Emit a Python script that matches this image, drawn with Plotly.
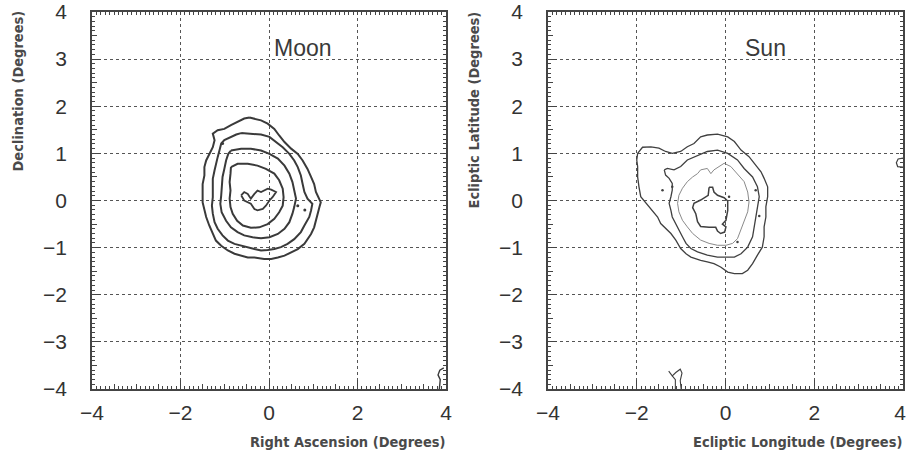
import plotly.graph_objects as go

# ---------------- data (degrees) ----------------
X_TICKS = [-4, -2, 0, 2, 4]
X_TICK_TEXT_RIGHT = ["\u22124", "\u22122", "0", "2", "4\u00a0"]
Y_TICKS = [-4, -3, -2, -1, 0, 1, 2, 3, 4]
AX_RANGE = [-4, 4]

MOON_RING_1 = [(-0.44, 1.76), (-0.18, 1.70), (-0.03, 1.63), (0.12, 1.52), (0.23, 1.38), (0.35, 1.24),
               (0.50, 1.10), (0.65, 0.99), (0.76, 0.85), (0.87, 0.67), (0.95, 0.50), (1.02, 0.35),
               (1.06, 0.18), (1.14, 0.04), (1.17, -0.04), (1.14, -0.14), (1.10, -0.28), (1.06, -0.43),
               (1.02, -0.57), (0.95, -0.71), (0.87, -0.82), (0.80, -0.92), (0.65, -1.03), (0.50, -1.10),
               (0.35, -1.17), (0.20, -1.21), (0.05, -1.24), (-0.11, -1.24), (-0.33, -1.21), (-0.48, -1.21),
               (-0.63, -1.17), (-0.78, -1.13), (-0.93, -1.06), (-1.08, -0.96), (-1.20, -0.85), (-1.27, -0.71),
               (-1.35, -0.53), (-1.42, -0.35), (-1.46, -0.21), (-1.50, -0.04), (-1.50, 0.14), (-1.50, 0.35),
               (-1.46, 0.53), (-1.46, 0.71), (-1.42, 0.85), (-1.35, 0.99), (-1.27, 1.13), (-1.23, 1.28),
               (-1.27, 1.42), (-1.16, 1.49), (-1.01, 1.52), (-0.86, 1.60), (-0.71, 1.67), (-0.56, 1.74)]
MOON_RING_2 = [(-0.63, 1.43), (-0.41, 1.42), (-0.18, 1.40), (0.01, 1.35), (0.16, 1.24), (0.31, 1.13),
               (0.46, 0.99), (0.57, 0.85), (0.65, 0.71), (0.72, 0.53), (0.76, 0.35), (0.80, 0.18),
               (0.87, 0.04), (0.98, -0.07), (0.95, -0.21), (0.91, -0.35), (0.80, -0.53), (0.72, -0.67),
               (0.57, -0.82), (0.42, -0.92), (0.27, -0.99), (0.12, -1.03), (-0.03, -1.05), (-0.18, -1.06),
               (-0.33, -1.03), (-0.48, -0.99), (-0.63, -0.96), (-0.78, -0.92), (-0.93, -0.85), (-1.05, -0.74),
               (-1.16, -0.60), (-1.23, -0.46), (-1.27, -0.28), (-1.29, -0.11), (-1.27, 0.07), (-1.27, 0.25),
               (-1.27, 0.46), (-1.23, 0.64), (-1.20, 0.78), (-1.16, 0.92), (-1.12, 1.06), (-1.08, 1.21),
               (-1.01, 1.28), (-0.86, 1.35), (-0.74, 1.40)]
MOON_RING_3 = [(-0.86, 1.06), (-0.63, 1.10), (-0.41, 1.10), (-0.18, 1.06), (0.01, 0.99), (0.20, 0.89),
               (0.35, 0.74), (0.46, 0.57), (0.53, 0.39), (0.57, 0.21), (0.61, 0.04), (0.57, -0.14),
               (0.53, -0.28), (0.46, -0.46), (0.35, -0.60), (0.20, -0.71), (0.01, -0.78), (-0.18, -0.80),
               (-0.37, -0.78), (-0.56, -0.74), (-0.71, -0.67), (-0.86, -0.57), (-0.97, -0.43), (-1.07, -0.25),
               (-1.10, -0.07), (-1.08, 0.11), (-1.07, 0.28), (-1.05, 0.50), (-1.01, 0.67), (-0.97, 0.85),
               (-0.92, 0.99)]
MOON_RING_4 = [(-0.86, 0.71), (-0.71, 0.78), (-0.48, 0.78), (-0.26, 0.74), (-0.07, 0.67), (0.12, 0.57),
               (0.23, 0.43), (0.31, 0.25), (0.33, 0.07), (0.31, -0.11), (0.23, -0.25), (0.12, -0.39),
               (-0.03, -0.50), (-0.22, -0.57), (-0.41, -0.58), (-0.59, -0.53), (-0.72, -0.43), (-0.82, -0.28),
               (-0.87, -0.14), (-0.89, 0.04), (-0.87, 0.21), (-0.89, 0.39), (-0.87, 0.57)]
MOON_CORE = [(-0.63, 0.11), (-0.56, 0.18), (-0.48, 0.14), (-0.41, 0.04), (-0.33, 0.14), (-0.26, 0.21),
             (-0.18, 0.18), (-0.11, 0.21), (-0.03, 0.25), (0.05, 0.23), (0.16, 0.18), (0.08, 0.07),
             (0.01, 0.00), (-0.07, -0.11), (-0.14, -0.18), (-0.26, -0.21), (-0.33, -0.18), (-0.41, -0.07),
             (-0.48, -0.04), (-0.56, 0.00)]
MOON_EDGE = [(3.95, -3.55), (3.86, -3.60), (3.82, -3.70), (3.87, -3.80), (3.85, -4.0)]
MOON_SPOTS_X = [-1.05, 0.65, 0.81]
MOON_SPOTS_Y = [1.21, -0.11, -0.20]

SUN_RING_1 = [(-1.98, 1.00), (-1.87, 1.13), (-1.68, 1.14), (-1.50, 1.11), (-1.35, 1.04), (-1.20, 1.00),
              (-1.01, 1.04), (-0.86, 1.14), (-0.71, 1.21), (-0.56, 1.35), (-0.41, 1.39), (-0.18, 1.41),
              (0.05, 1.35), (0.20, 1.25), (0.35, 1.07), (0.53, 0.93), (0.68, 0.75), (0.80, 0.61),
              (0.87, 0.47), (0.95, 0.29), (0.95, 0.08), (0.91, -0.13), (0.91, -0.35), (0.87, -0.56),
              (0.87, -0.77), (0.83, -0.99), (0.72, -1.16), (0.61, -1.34), (0.50, -1.48), (0.38, -1.55),
              (0.20, -1.55), (0.05, -1.52), (-0.11, -1.41), (-0.26, -1.34), (-0.41, -1.30), (-0.56, -1.27),
              (-0.78, -1.20), (-0.89, -1.13), (-1.01, -1.02), (-1.12, -0.84), (-1.23, -0.70), (-1.35, -0.60),
              (-1.46, -0.49), (-1.53, -0.35), (-1.65, -0.21), (-1.80, -0.06), (-1.91, 0.08), (-1.95, 0.29),
              (-1.98, 0.50), (-1.98, 0.72), (-2.00, 0.86)]
SUN_RING_2 = [(-1.38, 0.65), (-1.31, 0.68), (-1.16, 0.65), (-1.01, 0.72), (-0.86, 0.86), (-0.63, 0.96),
              (-0.41, 1.04), (-0.18, 1.07), (0.05, 1.00), (0.27, 0.86), (0.42, 0.68), (0.61, 0.50),
              (0.72, 0.29), (0.76, 0.08), (0.72, -0.13), (0.68, -0.35), (0.65, -0.56), (0.61, -0.77),
              (0.50, -0.99), (0.35, -1.13), (0.20, -1.20), (0.05, -1.20), (-0.18, -1.20), (-0.41, -1.16),
              (-0.63, -1.09), (-0.78, -1.02), (-0.89, -0.91), (-0.97, -0.77), (-1.05, -0.63), (-1.12, -0.49),
              (-1.20, -0.35), (-1.23, -0.21), (-1.27, -0.06), (-1.23, 0.08), (-1.20, 0.22), (-1.20, 0.36),
              (-1.27, 0.47), (-1.35, 0.54)]
SUN_RING_3 = [(-0.63, 0.57), (-0.56, 0.65), (-0.41, 0.68), (-0.33, 0.57), (-0.26, 0.65), (-0.14, 0.72),
              (-0.03, 0.79), (0.12, 0.72), (0.27, 0.57), (0.42, 0.40), (0.50, 0.18), (0.53, -0.03),
              (0.50, -0.24), (0.42, -0.45), (0.35, -0.63), (0.27, -0.81), (0.16, -0.91), (0.01, -0.95),
              (-0.18, -0.95), (-0.37, -0.91), (-0.56, -0.84), (-0.74, -0.70), (-0.86, -0.56), (-0.97, -0.42),
              (-1.05, -0.24), (-1.08, -0.06), (-1.05, 0.11), (-0.97, 0.26), (-0.86, 0.40), (-0.74, 0.50)]
SUN_CORE = [(-0.37, 0.28), (-0.39, 0.11), (-0.56, 0.01), (-0.71, -0.06), (-0.74, -0.15), (-0.67, -0.28),
            (-0.63, -0.45), (-0.56, -0.55), (-0.37, -0.57), (-0.22, -0.57), (-0.18, -0.65), (-0.11, -0.70),
            (-0.02, -0.67), (0.01, -0.56), (-0.07, -0.50), (0.01, -0.42), (0.05, -0.21), (0.05, -0.01),
            (-0.03, 0.06), (-0.18, 0.11), (-0.26, 0.18), (-0.29, 0.28)]
SUN_EDGE_RIGHT = [(4.0, 0.90), (3.89, 0.88), (3.85, 0.80), (3.88, 0.72), (4.0, 0.71)]
SUN_EDGE_BOTTOM = [(-1.28, -3.62), (-1.20, -3.72), (-1.12, -3.65), (-1.02, -3.58), (-0.98, -3.66),
                   (-1.02, -3.82), (-1.00, -4.0), (None, None), (-1.20, -3.72), (-1.13, -3.80), (-1.13, -4.0)]
SUN_SPOTS_X = [-1.42, -1.20, 0.08, 0.68, 0.76, 0.27]
SUN_SPOTS_Y = [0.22, 0.29, 0.08, 0.22, -0.33, -0.88]

# ---------------- figure ----------------
W, H = 907, 455


def px_x(p):
    return p / W


def px_y(p):
    return 1 - p / H


LEFT_DOM = [px_x(92), px_x(446)]
RIGHT_DOM = [px_x(548), px_x(903)]
Y_DOM = [px_y(389), px_y(12)]

fig = go.Figure()


def ring(points, xa, ya, color, width, closed=True, dash="solid"):
    xs = [p[0] for p in points]
    ys = [p[1] for p in points]
    if closed:
        xs.append(points[0][0])
        ys.append(points[0][1])
    fig.add_trace(go.Scatter(x=xs, y=ys, mode="lines", xaxis=xa, yaxis=ya,
                             line=dict(color=color, width=width, dash=dash),
                             showlegend=False, hoverinfo="skip", connectgaps=False))


MC = "#3a3a3a"
for r in (MOON_RING_1, MOON_RING_2, MOON_RING_3, MOON_RING_4):
    ring(r, "x", "y", MC, 2.0)
ring(MOON_CORE, "x", "y", MC, 1.8)
ring(MOON_EDGE, "x", "y", MC, 1.4, closed=False)
fig.add_trace(go.Scatter(x=MOON_SPOTS_X, y=MOON_SPOTS_Y, mode="markers", xaxis="x", yaxis="y",
                         marker=dict(color=MC, size=3), showlegend=False, hoverinfo="skip"))

SC = "#404040"
ring(SUN_RING_1, "x2", "y2", SC, 1.3)
ring(SUN_RING_2, "x2", "y2", SC, 1.3)
ring(SUN_RING_3, "x2", "y2", "#8a8a8a", 1.0)
ring(SUN_CORE, "x2", "y2", SC, 1.5)
ring(SUN_EDGE_RIGHT, "x2", "y2", SC, 1.2, closed=False)
ring(SUN_EDGE_BOTTOM, "x2", "y2", SC, 1.1, closed=False)
fig.add_trace(go.Scatter(x=SUN_SPOTS_X, y=SUN_SPOTS_Y, mode="markers", xaxis="x2", yaxis="y2",
                         marker=dict(color=SC, size=2.5), showlegend=False, hoverinfo="skip"))

# empty traces so the fine-tick overlay axes are drawn
fig.add_trace(go.Scatter(x=[], y=[], xaxis="x3", yaxis="y3", showlegend=False))
fig.add_trace(go.Scatter(x=[], y=[], xaxis="x4", yaxis="y4", showlegend=False))

AXC = "#444444"
TICKFONT = dict(family="Liberation Sans, Arial, sans-serif", size=21, color="#333333")
HALF_STEPS = [v / 2 for v in range(-8, 9)]


def main_axis(domain, anchor, tickvals, standoff, ticktext=None):
    ax = dict(domain=domain, anchor=anchor, range=AX_RANGE, tickmode="array", tickvals=tickvals,
              ticks="inside", ticklen=9, tickwidth=1.2, tickcolor=AXC, automargin=False,
              showgrid=True, gridcolor="#555555", griddash="dot", gridwidth=1,
              showline=True, linecolor=AXC, linewidth=1.8, mirror=True, zeroline=False,
              tickfont=TICKFONT, ticklabelstandoff=standoff, ticklabeloverflow="allow",
              minor=dict(tickmode="array", tickvals=HALF_STEPS, ticks="inside", ticklen=5,
                         tickwidth=1, tickcolor=AXC, showgrid=False))
    if ticktext is not None:
        ax["ticktext"] = ticktext
    return ax


def fine_axis(overlay, anchor, side):
    return dict(overlaying=overlay, anchor=anchor, side=side, range=AX_RANGE, tickmode="linear",
                tick0=0, dtick=0.1, ticks="inside", ticklen=3, tickwidth=1, tickcolor=AXC,
                showticklabels=False, showgrid=False, zeroline=False, showline=True, automargin=False,
                linecolor=AXC, linewidth=1.8, mirror="ticks")


fig.update_layout(
    width=W, height=H, margin=dict(l=0, r=0, t=0, b=0, autoexpand=False),
    paper_bgcolor="white", plot_bgcolor="white", showlegend=False,
    xaxis=main_axis(LEFT_DOM, "y", X_TICKS, 4),
    yaxis=main_axis(Y_DOM, "x", Y_TICKS, 19),
    xaxis2=main_axis(RIGHT_DOM, "y2", X_TICKS, 4, X_TICK_TEXT_RIGHT),
    yaxis2=main_axis(Y_DOM, "x2", Y_TICKS, 19),
    xaxis3=fine_axis("x", "y3", "bottom"),
    yaxis3=fine_axis("y", "x3", "left"),
    xaxis4=fine_axis("x2", "y4", "bottom"),
    yaxis4=fine_axis("y2", "x4", "left"),
)

LABFONT = dict(family="DejaVu Sans Condensed, DejaVu Sans, sans-serif", size=14.5, weight="bold",
               color="#4a4a4a")
TITLEFONT = dict(family="Liberation Sans, Arial, sans-serif", size=23, color="#3a3a3a")
annots = [
    dict(text="Right Ascension (Degrees)", x=px_x(448), y=px_y(442), xanchor="right", yanchor="middle",
         font=LABFONT),
    dict(text="Ecliptic Longitude (Degrees)", x=px_x(904), y=px_y(442), xanchor="right", yanchor="middle",
         font=LABFONT),
    dict(text="Declination (Degrees)", x=px_x(17), y=px_y(9), xanchor="center", yanchor="top",
         textangle=-90, font=LABFONT),
    dict(text="Ecliptic Latitude (Degrees)", x=px_x(473), y=px_y(9), xanchor="center", yanchor="top",
         textangle=-90, font=LABFONT),
    dict(text="Moon", x=px_x(303), y=px_y(48), xanchor="center", yanchor="middle", font=TITLEFONT),
    dict(text="Sun", x=px_x(765), y=px_y(48), xanchor="center", yanchor="middle", font=TITLEFONT),
]
for a in annots:
    a.update(xref="paper", yref="paper", showarrow=False)
fig.update_layout(annotations=annots)

# remove the default 8px page margin so the 907x455 figure fills the window exactly
fig.write_html("out.html", config={"displayModeBar": False},
               post_script="document.body.style.margin='0px';")
